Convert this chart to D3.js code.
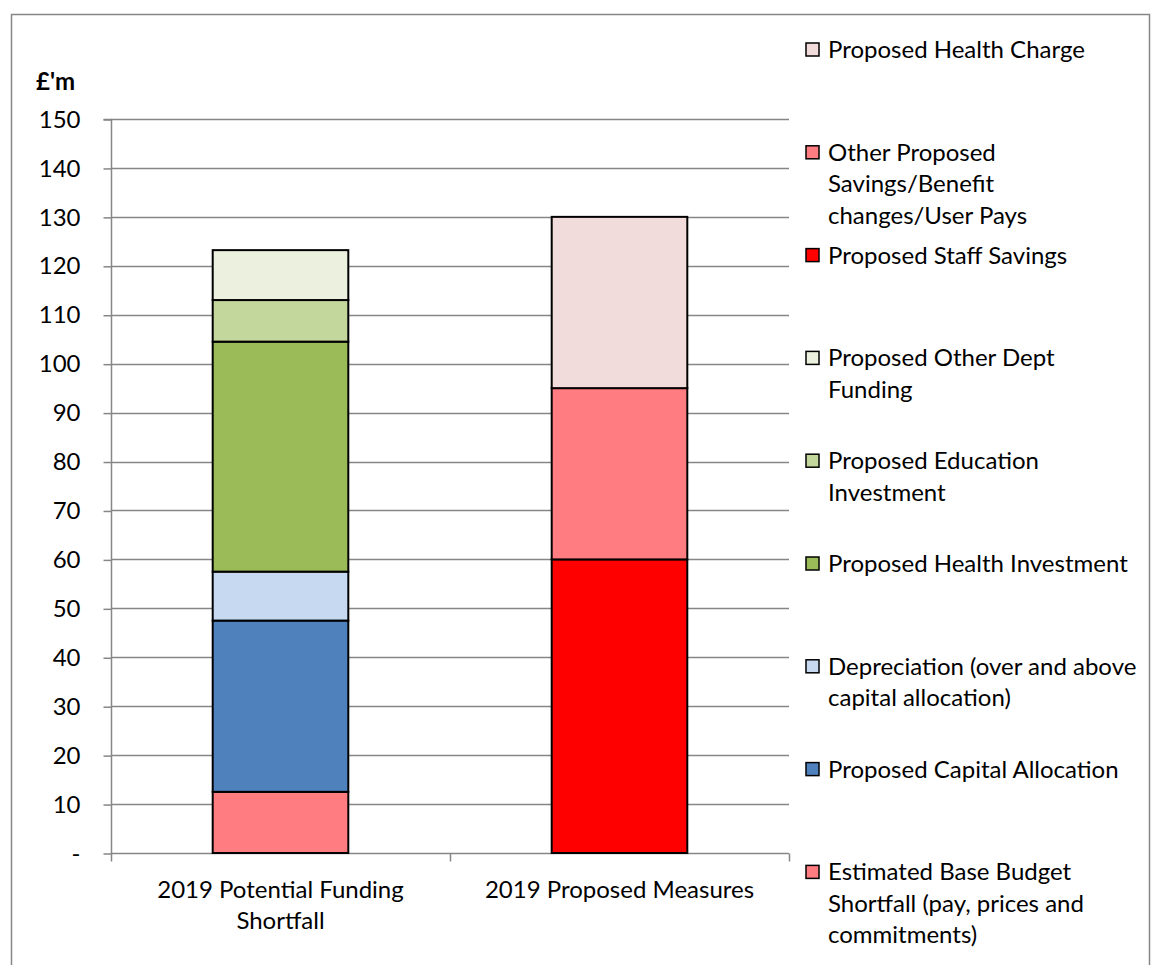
<!DOCTYPE html>
<html>
<head>
<meta charset="utf-8">
<script src="https://cdn.jsdelivr.net/npm/d3@7"></script>
<style>
  html, body { margin: 0; padding: 0; background: #fff; }
  svg text { font-family: Lato, "Open Sans", sans-serif; fill: #000; }
</style>
</head>
<body>
<svg id="chart" width="1151" height="965"></svg>
<script>
// Categories on the x axis
const categories = ["2019 Potential Funding Shortfall", "2019 Proposed Measures"];
const categoryLines = [["2019 Potential Funding", "Shortfall"], ["2019 Proposed Measures"]];

// Series, stacked bottom to top (£'m)
const seriesNames = [
  "Estimated Base Budget Shortfall (pay, prices and commitments)",
  "Proposed Capital Allocation",
  "Depreciation (over and above capital allocation)",
  "Proposed Health Investment",
  "Proposed Education Investment",
  "Proposed Other Dept Funding",
  "Proposed Staff Savings",
  "Other Proposed Savings/Benefit changes/User Pays",
  "Proposed Health Charge"
];
const shortfallValues = [12.5, 35, 10, 47, 8.5, 10.2, 0, 0, 0];
const measuresValues  = [0, 0, 0, 0, 0, 0, 60, 35, 35];
const seriesColors = ["#FF7C80", "#4F81BD", "#C6D9F1", "#9BBB59", "#C3D69B", "#EBF1DE", "#FF0000", "#FF7C80", "#F2DCDB"];

// Legend text, wrapped as shown (top entry first)
const legendLines = [
  ["Proposed Health Charge"],
  ["Other Proposed", "Savings/Benefit", "changes/User Pays"],
  ["Proposed Staff Savings"],
  ["Proposed Other Dept", "Funding"],
  ["Proposed Education", "Investment"],
  ["Proposed Health Investment"],
  ["Depreciation (over and above", "capital allocation)"],
  ["Proposed Capital Allocation"],
  ["Estimated Base Budget", "Shortfall (pay, prices and", "commitments)"]
];

const yTicks = [0, 10, 20, 30, 40, 50, 60, 70, 80, 90, 100, 110, 120, 130, 140, 150];
const yTitle = "£'m";

const svg = d3.select("#chart");
const plot = { left: 111, right: 789, top: 119, bottom: 853 };
const gridColor = "#868686";
const fontSize = 24;

// Outer frame
svg.append("rect")
  .attr("x", 11.5).attr("y", 14.5)
  .attr("width", 1138).attr("height", 970)
  .attr("fill", "none").attr("stroke", gridColor).attr("stroke-width", 1.5);

const table = categories.map((c, i) => {
  const row = { category: c };
  seriesNames.forEach((s, j) => { row[s] = i === 0 ? shortfallValues[j] : measuresValues[j]; });
  return row;
});
const stacked = d3.stack().keys(seriesNames)(table);

// One band per category; each bar fills 40% of its band
const xOuter = d3.scaleBand().domain(categories).range([plot.left, plot.right]);
const barW = xOuter.bandwidth() / 2.5;
const y = d3.scaleLinear().domain([0, 150]).range([plot.bottom, plot.top]);

// Gridlines
svg.append("g").selectAll("line").data(yTicks.filter(t => t > 0)).join("line")
  .attr("x1", plot.left).attr("x2", plot.right)
  .attr("y1", d => Math.round(y(d)) + 0.5).attr("y2", d => Math.round(y(d)) + 0.5)
  .attr("stroke", gridColor).attr("stroke-width", 1.5);

// Y axis
const yAxis = d3.axisLeft(y).tickValues(yTicks).tickSize(8).tickPadding(24)
  .tickFormat(d => d === 0 ? "-" : d);
const gy = svg.append("g").attr("transform", `translate(${plot.left + 0.5},0.5)`).call(yAxis);
gy.select(".domain").attr("stroke", gridColor).attr("stroke-width", 1.5).attr("d", `M-8,${y(150)}H0V${y(0)}`);
gy.selectAll(".tick line").attr("stroke", gridColor).attr("stroke-width", 1.5);
gy.selectAll(".tick text").attr("font-size", fontSize).attr("font-family", "Lato, sans-serif").attr("fill", "#000")
  .attr("dx", 0).attr("text-anchor", "end").attr("x", -31);

// Y title
svg.append("text").attr("x", 36).attr("y", 90).attr("font-size", fontSize).attr("font-weight", "bold").text(yTitle);

// X axis
const gx = svg.append("g").attr("transform", `translate(0,${Math.round(y(0)) + 0.5})`);
gx.append("line").attr("x1", plot.left).attr("x2", plot.right).attr("stroke", gridColor).attr("stroke-width", 1.5);
const boundaries = [plot.left, ...categories.map(c => xOuter(c) + xOuter.bandwidth())];
gx.selectAll("line.tk").data(boundaries).join("line").attr("class", "tk")
  .attr("x1", d => d + 0.5).attr("x2", d => d + 0.5).attr("y1", 0).attr("y2", 8)
  .attr("stroke", gridColor).attr("stroke-width", 1.5);
categories.forEach((c, i) => {
  const cx = xOuter(c) + xOuter.bandwidth() / 2;
  const t = gx.append("text").attr("text-anchor", "middle").attr("font-size", fontSize);
  categoryLines[i].forEach((ln, k) => {
    t.append("tspan").attr("x", cx).attr("y", 44 + k * 31).text(ln);
  });
});

// Stacked bars
svg.append("g").selectAll("g").data(stacked).join("g")
  .attr("fill", (d, i) => seriesColors[i])
  .selectAll("rect").data(d => d.filter(p => p[1] - p[0] > 0)).join("rect")
  .attr("x", d => xOuter(d.data.category) + (xOuter.bandwidth() - barW) / 2)
  .attr("width", barW)
  .attr("y", d => y(d[1]))
  .attr("height", d => y(d[0]) - y(d[1]))
  .attr("stroke", "#000").attr("stroke-width", 2);

// Legend (top series first)
const legendIndex = seriesNames.map((s, i) => i).reverse();
const lg = svg.append("g");
legendIndex.forEach((si, k) => {
  const top = 50 + k * 102.8;
  const g = lg.append("g");
  g.append("rect").attr("x", 806).attr("y", top - 7).attr("width", 13).attr("height", 13)
    .attr("fill", seriesColors[si]).attr("stroke", "#000").attr("stroke-width", 1.5);
  const t = g.append("text").attr("font-size", fontSize);
  legendLines[k].forEach((ln, j) => {
    t.append("tspan").attr("x", 828).attr("y", top + 8 + j * 31.5).text(ln);
  });
});
</script>
</body>
</html>
